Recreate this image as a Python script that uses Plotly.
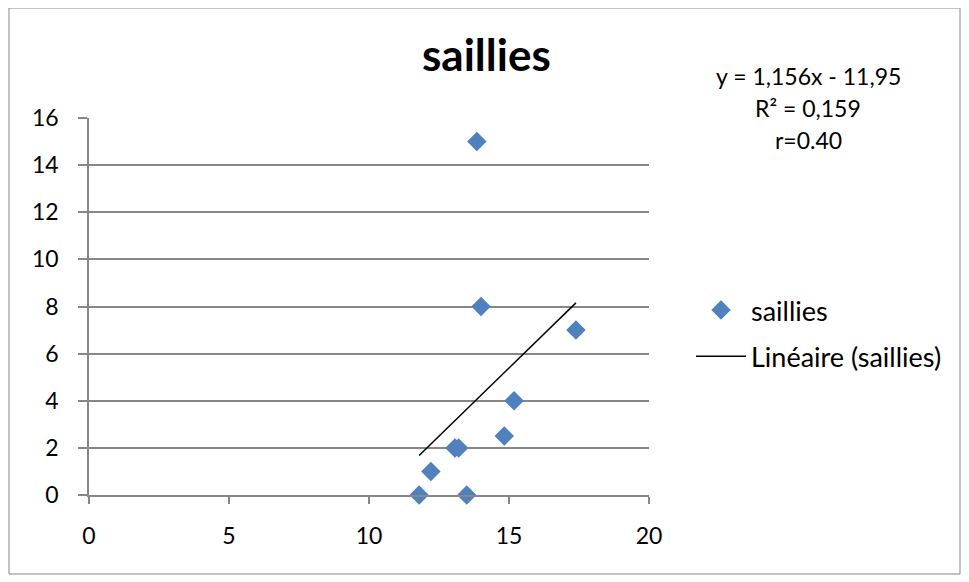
import plotly.graph_objects as go

x_vals = [11.79, 12.21, 13.07, 13.2, 13.49, 13.85, 14.0, 14.83, 15.18, 17.39]
y_vals = [0, 1, 2, 2, 0, 15, 8, 2.5, 4, 7]
slope = 1.156
intercept = -11.95
eq_lines = ["y = 1,156x - 11,95", "R² = 0,159", "r=0.40"]
x_ticks = [0, 5, 10, 15, 20]
y_ticks = [0, 2, 4, 6, 8, 10, 12, 14, 16]

FONT = "Lato, 'Open Sans', sans-serif"
GRID = "#878787"

x_fit = [min(x_vals), max(x_vals)]
y_fit = [slope * v + intercept for v in x_fit]

fig = go.Figure()
fig.add_trace(go.Scatter(
    x=x_vals, y=y_vals, mode="markers", name="saillies",
    marker=dict(symbol="diamond", size=15, color="#4F81BD"),
    legendgroup="a", cliponaxis=False,
))
fig.add_trace(go.Scatter(
    x=x_fit, y=y_fit, mode="lines", name="Linéaire (saillies)",
    line=dict(color="black", width=1.5),
    legendgroup="b",
))

OFF = 8  # page body margin
W, H = 969, 582
# target screen plot area: x 89..649, y 118..495
L = 89 - OFF
T = 118 - OFF
R = W - (649 - OFF)
B = H - (495 - OFF)
pw = W - L - R
ph = H - T - B

def px2x(px):
    return (px - OFF - L) / pw

def py2y(py):
    return (H - B - (py - OFF)) / ph

annotations = []
for i, txt in enumerate(eq_lines):
    annotations.append(dict(
        text=txt, xref="paper", yref="paper",
        x=px2x(808), y=py2y(76 + 32 * i), showarrow=False,
        xanchor="center", yanchor="middle",
        font=dict(family=FONT, size=23, color="black"),
    ))
annotations.append(dict(
    text="<b>saillies</b>", xref="paper", yref="paper",
    x=px2x(486), y=py2y(54), showarrow=False,
    xanchor="center", yanchor="middle",
    font=dict(family=FONT, size=44, color="black"),
))

fig.update_layout(
    width=W, height=H,
    margin=dict(l=L, r=R, t=T, b=B),
    paper_bgcolor="white", plot_bgcolor="white",
    font=dict(family=FONT, size=23, color="black"),
    showlegend=True,
    legend=dict(
        x=px2x(691), y=py2y(286), xanchor="left", yanchor="top",
        font=dict(family=FONT, size=27, color="black"),
        tracegroupgap=8, traceorder="grouped",
        itemwidth=50, bgcolor="rgba(0,0,0,0)",
    ),
    annotations=annotations,
    shapes=[dict(
        type="rect", xref="paper", yref="paper",
        x0=px2x(9), x1=px2x(960), y0=py2y(574), y1=py2y(8),
        line=dict(color="#878787", width=1), fillcolor="rgba(0,0,0,0)",
        layer="below",
    )],
)
fig.update_xaxes(
    range=[0, 20], tickvals=x_ticks, showgrid=False, zeroline=False,
    showline=True, linecolor=GRID, linewidth=1.5,
    ticks="outside", ticklen=7, tickcolor=GRID, tickwidth=1.5,
    ticklabelstandoff=13,
    tickfont=dict(family=FONT, size=23, color="black"),
)
fig.update_yaxes(
    range=[0, 16], tickvals=y_ticks, showgrid=True, gridcolor=GRID,
    gridwidth=1.5, zeroline=False,
    showline=True, linecolor=GRID, linewidth=1.5,
    ticks="outside", ticklen=9, tickcolor=GRID, tickwidth=1.5,
    ticklabelstandoff=15,
    tickfont=dict(family=FONT, size=23, color="black"),
)

fig.write_html("out.html")
